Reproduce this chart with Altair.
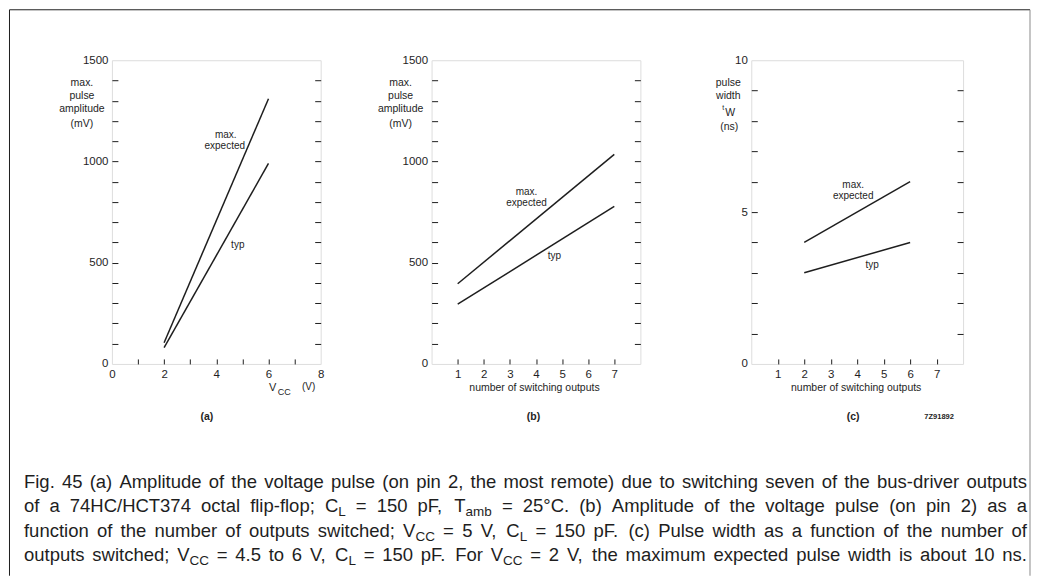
import re
import altair as alt
import pandas as pd

# ---------------- data ----------------
series_names = ["max. expected", "typ"]

# (a) max. pulse amplitude (mV) vs VCC (V)
a_x = [2, 6]
a_max = [105, 1310]
a_typ = [80, 990]
a_xlabels = [0, 2, 4, 6, 8]
a_xticks = [1, 2, 3, 4, 5, 6, 7]
a_ylabels = [0, 500, 1000, 1500]
a_yticks = [100, 200, 300, 400, 500, 600, 700, 800, 900, 1000, 1100, 1200, 1300, 1400]

# (b) max. pulse amplitude (mV) vs number of switching outputs
b_x = [1, 7]
b_max = [396, 1035]
b_typ = [295, 778]
b_xlabels = [1, 2, 3, 4, 5, 6, 7]
b_xticks = [1, 2, 3, 4, 5, 6, 7]
b_ylabels = [0, 500, 1000, 1500]
b_yticks = a_yticks

# (c) pulse width tW (ns) vs number of switching outputs
c_x = [2, 6]
c_max = [4.0, 6.0]
c_typ = [3.0, 4.0]
c_xlabels = [1, 2, 3, 4, 5, 6, 7]
c_xticks = [1, 2, 3, 4, 5, 6, 7]
c_ylabels = [0, 5, 10]
c_yticks = [1, 2, 3, 4, 5, 6, 7, 8, 9]

caption_lines = [
    "Fig. 45 (a) Amplitude of the voltage pulse (on pin 2, the most remote) due to switching seven of the bus-driver outputs",
    "of a 74HC/HCT374 octal flip-flop; C_{L} = 150 pF, T_{amb} = 25\u00b0C. (b) Amplitude of the voltage pulse (on pin 2) as a",
    "function of the number of outputs switched; V_{CC} = 5 V, C_{L} = 150 pF. (c) Pulse width as a function of the number of",
    "outputs switched; V_{CC} = 4.5 to 6 V, C_{L} = 150 pF. For V_{CC} = 2 V, the maximum expected pulse width is about 10 ns.",
]

# ---------------- styling ----------------
FONT = "Liberation Sans"
INK = "#1e1e1e"
ONE = pd.DataFrame({"k": [0]})


def series_df(xs, ymax, ytyp):
    return pd.DataFrame({
        "x": list(xs) + list(xs),
        "y": list(ymax) + list(ytyp),
        "s": [series_names[0]] * len(xs) + [series_names[1]] * len(xs),
    })


def txt(s, x, y, size=10, align="center", baseline="middle", weight="normal", font=FONT, color=INK):
    return alt.Chart(ONE).mark_text(
        text=s, align=align, baseline=baseline, fontSize=size, font=font,
        fontWeight=weight, color=color
    ).encode(x=alt.value(x), y=alt.value(y))


def rule(x1, y1, x2, y2, color=INK, w=1):
    return alt.Chart(ONE).mark_rule(color=color, strokeWidth=w).encode(
        x=alt.value(x1), y=alt.value(y1), x2=alt.value(x2), y2=alt.value(y2))


def panel(df, W, H, xdom, ydom, xlabels, xticks, ylabels, yticks, extras):
    xs = alt.Scale(domain=xdom, nice=False, zero=False)
    ys = alt.Scale(domain=ydom, nice=False, zero=False)
    lab = dict(labelFont=FONT, labelFontSize=11.5, labelColor=INK, labelFlush=False,
               labelOverlap=False, grid=False, domain=False, title=None, format="d")
    tck = dict(labels=False, grid=False, domain=False, title=None, tickColor=INK, tickWidth=1)
    base = alt.Chart(df)
    main = base.mark_line(color=INK, strokeWidth=1.5).encode(
        x=alt.X("x:Q", scale=xs, axis=alt.Axis(orient="bottom", values=xlabels, ticks=False,
                                                labelPadding=5, **lab)),
        y=alt.Y("y:Q", scale=ys, axis=alt.Axis(orient="left", values=ylabels, ticks=False,
                                                labelPadding=4, **lab)),
        detail="s:N",
    )
    ticks1 = base.mark_line(strokeOpacity=0).encode(
        x=alt.X("x:Q", scale=xs, axis=alt.Axis(orient="top", offset=-H, values=xticks,
                                                tickSize=5, **tck)),
        y=alt.Y("y:Q", scale=ys, axis=alt.Axis(orient="right", offset=-W, values=yticks,
                                                tickSize=6, **tck)),
        detail="s:N",
    )
    ticks2 = base.mark_line(strokeOpacity=0).encode(
        x=alt.X("x:Q", scale=xs, axis=None),
        y=alt.Y("y:Q", scale=ys, axis=alt.Axis(orient="left", offset=-W, values=yticks,
                                                tickSize=6, **tck)),
        detail="s:N",
    )
    return alt.layer(main, ticks1, ticks2, *extras).resolve_axis(
        x="independent", y="independent").properties(width=W, height=H)


# ---------------- caption (justified, word by word) ----------------
AW = {' ': 278, 'a': 556, 'b': 556, 'c': 500, 'd': 556, 'e': 556, 'f': 278, 'g': 556,
      'h': 556, 'i': 222, 'j': 222, 'k': 500, 'l': 222, 'm': 833, 'n': 556, 'o': 556,
      'p': 556, 'q': 556, 'r': 333, 's': 500, 't': 278, 'u': 556, 'v': 500, 'w': 722,
      'x': 500, 'y': 500, 'z': 500, 'A': 667, 'B': 667, 'C': 722, 'D': 722, 'E': 667,
      'F': 611, 'G': 778, 'H': 722, 'I': 278, 'J': 500, 'K': 667, 'L': 556, 'M': 833,
      'N': 722, 'O': 778, 'P': 667, 'Q': 778, 'R': 722, 'S': 667, 'T': 611, 'U': 722,
      'V': 667, 'W': 944, 'X': 667, 'Y': 667, 'Z': 611, '.': 278, ',': 278, ';': 278,
      ':': 278, '(': 333, ')': 333, '-': 333, '/': 278, '=': 584, '\u00b0': 400}
for d in "0123456789":
    AW[d] = 556


def tw(s, size):
    return sum(AW.get(ch, 556) for ch in s) * size / 1000.0


CAP_SIZE = 18.5
SUB_SIZE = 13.5
SUB_DY = 4


def caption_layers(ox, oy):
    layers = []
    left, right = 23 - ox, 1027 - ox
    baselines = [487, 511, 536, 560]
    for line, yb in zip(caption_lines, baselines):
        words = []
        for tok in line.split(" "):
            pieces = []
            for p in re.split(r"(_\{[^}]*\})", tok):
                if not p:
                    continue
                if p.startswith("_{"):
                    pieces.append((p[2:-1], True))
                else:
                    pieces.append((p, False))
            words.append(pieces)
        widths = [sum(tw(t, SUB_SIZE if sub else CAP_SIZE) for t, sub in w) for w in words]
        gap = (right - left - sum(widths)) / (len(words) - 1)
        x = left
        for w, wd in zip(words, widths):
            px = x
            for t, sub in w:
                size = SUB_SIZE if sub else CAP_SIZE
                layers.append(txt(t, px, yb - oy + (SUB_DY if sub else 0), size=size,
                                  align="left", baseline="alphabetic"))
                px += tw(t, size)
            x += wd + gap
    return layers


# ---------------- panels ----------------
AX, AY = 111, 59
BX, CX = 431, 751
W_A, W_B, W_C, H = 209, 209, 212, 304

extras_a = [
    txt("max.", -30, 23, size=10.5), txt("pulse", -30, 36, size=10.5),
    txt("amplitude", -30, 49, size=10.5), txt("(mV)", -30, 64, size=10.5),
    txt("max.", 114, 75), txt("expected", 113, 86), txt("typ", 126, 185),
    txt("V", 161, 328, size=11), txt("CC", 166, 332, size=9, align="left"),
    txt("(V)", 197, 327, size=10),
    txt("(a)", 95, 357, size=10.5, weight="bold"),
    # outer frame of the figure
    rule(8.5 - AX, 8.5 - AY, 8.5 - AX, 575 - AY),
    rule(8.5 - AX, 8.5 - AY, 1030 - AX, 8.5 - AY),
    rule(1030 - AX, 8.5 - AY, 1030 - AX, 575 - AY, color="#8a8a8a"),
] + caption_layers(AX, AY)

extras_b = [
    txt("max.", -31, 23, size=10.5), txt("pulse", -31, 36, size=10.5),
    txt("amplitude", -31, 49, size=10.5), txt("(mV)", -31, 64, size=10.5),
    txt("max.", 95, 132), txt("expected", 95, 143), txt("typ", 123, 196),
    txt("number of switching outputs", 103, 328, size=10.5),
    txt("(b)", 102, 357, size=10.5, weight="bold"),
]

extras_c = [
    txt("pulse", -23, 23, size=10.5), txt("width", -23, 36, size=10.5),
    txt("t", -28, 48, size=7), txt("W", -21, 53, size=10.5),
    txt("(ns)", -22, 67, size=10.5),
    txt("max.", 102, 125), txt("expected", 102, 136), txt("typ", 121, 205),
    txt("number of switching outputs", 105, 328, size=10.5),
    txt("(c)", 102, 357, size=10.5, weight="bold"),
    txt("7Z91892", 188, 357, size=7.5, weight="bold"),
]

pa = panel(series_df(a_x, a_max, a_typ), W_A, H, [0, 8], [0, 1500],
           a_xlabels, a_xticks, a_ylabels, a_yticks, extras_a)
pb = panel(series_df(b_x, b_max, b_typ), W_B, H, [0, 8], [0, 1500],
           b_xlabels, b_xticks, b_ylabels, b_yticks, extras_b)
pc = panel(series_df(c_x, c_max, c_typ), W_C, H, [0, 8], [0, 10],
           c_xlabels, c_xticks, c_ylabels, c_yticks, extras_c)

chart = alt.hconcat(pa, pb, pc, spacing=111, bounds="flush", padding=0).configure_view(
    stroke=INK, strokeWidth=1.1
).configure(background="white")

chart.save("out.html", embed_options={"renderer": "svg", "actions": False})
